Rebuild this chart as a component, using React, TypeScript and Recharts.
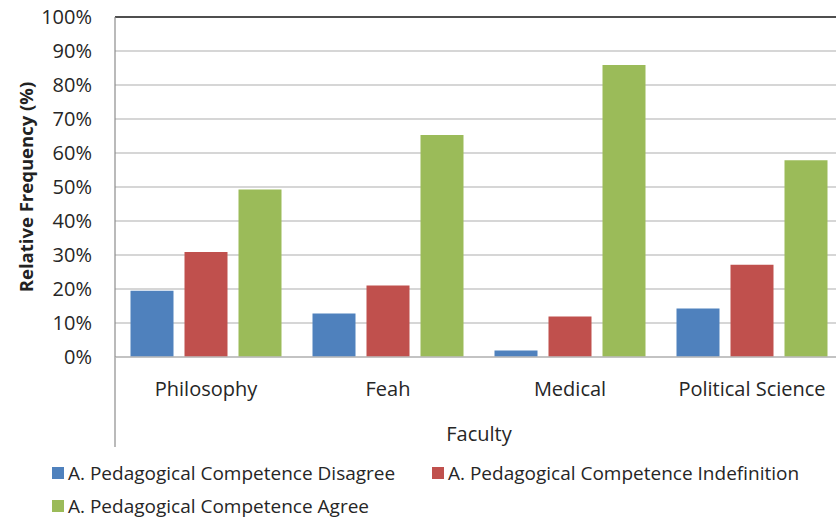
import React from 'react';
import * as Recharts from 'recharts';
import { BarChart, Bar, XAxis, YAxis, CartesianGrid, Legend, ReferenceLine } from 'recharts';

const categories = ['Philosophy', 'Feah', 'Medical', 'Political Science'];
const disagree = [19.5, 12.8, 1.9, 14.3];
const indefinition = [30.9, 21.0, 11.9, 27.1];
const agree = [49.3, 65.3, 85.9, 57.9];
const yTicks = [0, 10, 20, 30, 40, 50, 60, 70, 80, 90, 100];

const seriesNames = [
  'A. Pedagogical Competence Disagree',
  'A. Pedagogical Competence Indefinition',
  'A. Pedagogical Competence Agree',
];
const seriesColors = ['#4F81BD', '#C0504D', '#9BBB59'];
const legendRows = [[0, 1], [2]];

const data = categories.map((c, i) => ({
  name: c,
  disagree: disagree[i],
  indefinition: indefinition[i],
  agree: agree[i],
}));

const FONT = '"Open Sans", sans-serif';

const AxisExtension = () => {
  const hook = (Recharts as any).usePlotArea;
  const area = hook ? hook() : null;
  if (!area) return null;
  const cy = area.y + area.height / 2;
  return (
    <g>
      <line
        x1={area.x}
        x2={area.x}
        y1={area.y + area.height}
        y2={area.y + area.height + 90}
        stroke="#8c8c8c"
        strokeWidth={1.2}
      />
      <text
        x={25}
        y={cy}
        transform={`rotate(-90, 25, ${cy})`}
        textAnchor="middle"
        dominantBaseline="central"
        fontFamily={FONT}
        fontWeight="bold"
        fontSize={18.5}
        fill="#222"
      >
        Relative Frequency (%)
      </text>
    </g>
  );
};

const renderLegend = () => (
  <div
    style={{
      width: 836,
      height: 70,
      paddingTop: 9,
      paddingLeft: 52,
      boxSizing: 'border-box',
      fontFamily: FONT,
      fontSize: 19,
      color: '#262626',
    }}
  >
    {legendRows.map((row, r) => (
      <div key={r} style={{ display: 'flex', height: 33 }}>
        {row.map((i) => (
          <div
            key={i}
            style={{
              display: 'flex',
              alignItems: 'center',
              height: 33,
              width: i === 0 ? 380 : undefined,
              whiteSpace: 'nowrap',
            }}
          >
            <span
              style={{
                display: 'inline-block',
                width: 12,
                height: 12,
                background: seriesColors[i],
                marginRight: 4,
              }}
            />
            <span>{seriesNames[i]}</span>
          </div>
        ))}
      </div>
    ))}
  </div>
);

export default function App() {
  return (
    <div
      style={{
        position: 'fixed',
        left: 0,
        top: 0,
        width: 836,
        height: 517,
        overflow: 'hidden',
        background: '#fff',
      }}
    >
      <BarChart
        width={848}
        height={517}
        data={data}
        margin={{ top: 17, right: 5, left: 0, bottom: 0 }}
        barCategoryGap={15.5}
        barGap={11}
      >
        <CartesianGrid vertical={false} stroke="#c9c9c9" strokeWidth={1.3} />
        <XAxis
          dataKey="name"
          height={90}
          tickSize={0}
          tickMargin={25}
          axisLine={{ stroke: '#bdbdbd', strokeWidth: 1.3 }}
          tick={{ fontFamily: FONT, fontSize: 20, fill: '#262626' }}
          label={{
            value: 'Faculty',
            position: 'insideBottom',
            offset: 6,
            style: { fontFamily: FONT, fontSize: 20, fill: '#262626' },
          }}
        />
        <YAxis
          width={115}
          domain={[0, 100]}
          ticks={yTicks}
          interval={0}
          tickSize={0}
          tickMargin={23}
          tickFormatter={(v: number) => `${v}%`}
          axisLine={{ stroke: '#8c8c8c', strokeWidth: 1.2 }}
          tick={{ fontFamily: FONT, fontSize: 20, fill: '#262626' }}
        />
        <ReferenceLine y={100} stroke="#222" strokeWidth={1.6} />
        <Legend
          verticalAlign="bottom"
          content={renderLegend}
          wrapperStyle={{ left: 0, width: 836, height: 70 }}
        />
        <Bar dataKey="disagree" name={seriesNames[0]} fill={seriesColors[0]} isAnimationActive={false} />
        <Bar dataKey="indefinition" name={seriesNames[1]} fill={seriesColors[1]} isAnimationActive={false} />
        <Bar dataKey="agree" name={seriesNames[2]} fill={seriesColors[2]} isAnimationActive={false} />
        <AxisExtension />
      </BarChart>
    </div>
  );
}
